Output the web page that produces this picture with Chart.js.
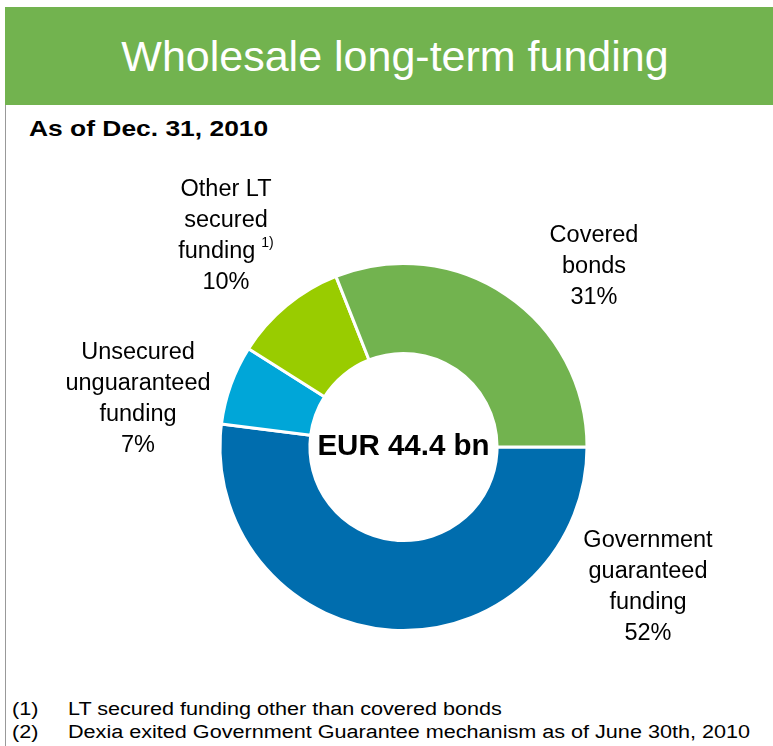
<!DOCTYPE html>
<html>
<head>
<meta charset="utf-8">
<script src="https://cdn.jsdelivr.net/npm/chart.js@4"></script>
<style>
  body { margin: 0; width: 773px; height: 746px; background: #fff; position: relative; overflow: hidden;
         font-family: "Liberation Sans", Arial, sans-serif; }
  #bar { position: absolute; left: 5px; top: 7px; width: 768px; height: 98px; background: #72B34F;
         color: #fff; font-size: 43px; text-align: center; line-height: 98px; padding-left: 12px; box-sizing: border-box; }
  #edge { position: absolute; left: 5px; top: 105px; width: 1px; height: 641px; background: #999; }
  #sub { position: absolute; left: 29px; top: 116px; font-size: 22px; font-weight: bold;
         transform: scaleX(1.2); transform-origin: left top; white-space: nowrap; }
  .note { position: absolute; font-size: 18px; transform: scaleX(1.2); transform-origin: left top; white-space: nowrap; }
  canvas { position: absolute; left: 0; top: 0; }
</style>
</head>
<body>
<div id="bar">Wholesale long-term funding</div>
<div id="edge"></div>
<div id="sub">As of Dec. 31, 2010</div>
<div class="note" style="left:12px;top:699px">(1)</div>
<div class="note" style="left:68px;top:699px">LT secured funding other than covered bonds</div>
<div class="note" style="left:12px;top:722px">(2)</div>
<div class="note" style="left:68px;top:722px">Dexia exited Government Guarantee mechanism as of June 30th, 2010</div>
<canvas id="myChart" width="773" height="746"></canvas>
<script>
"use strict";

const categories = ["Government guaranteed funding", "Unsecured unguaranteed funding", "Other LT secured funding", "Covered bonds"];
const shares = [52, 7, 10, 31];
const sliceColors = ["#006DAE", "#00A6D8", "#99CC00", "#72B34F"];
const labelLines = [
  ["Government", "guaranteed", "funding", "52%"],
  ["Unsecured", "unguaranteed", "funding", "7%"],
  ["Other LT", "secured", "funding", "10%"],
  ["Covered", "bonds", "31%"]
];
const centerText = "EUR 44.4 bn";

// where each label block sits (centre x, first line y)
const labelSpots = [
  [648, 541],
  [138, 353],
  [226, 190],
  [594, 236]
];

const labelPlugin = {
  id: "labels",
  afterDraw(chart) {
    const ctx = chart.ctx;
    const arc = chart.getDatasetMeta(0).data[0];
    ctx.save();
    ctx.fillStyle = "#000";
    ctx.textAlign = "center";
    ctx.textBaseline = "middle";
    ctx.font = "bold 29.5px 'Liberation Sans', Arial, sans-serif";
    ctx.fillText(centerText, arc.x, arc.y);

    const labelFont = "23.5px 'Liberation Sans', Arial, sans-serif";
    const supFont = "14px 'Liberation Sans', Arial, sans-serif";
    for (let i = 0; i < labelLines.length; i++) {
      const [x, y] = labelSpots[i];
      const lines = labelLines[i];
      for (let j = 0; j < lines.length; j++) {
        const ly = y + j * 31;
        if (i === 2 && j === 2) {
          // "funding" with footnote 1) centred as one group
          ctx.font = labelFont;
          const w1 = ctx.measureText(lines[j]).width;
          ctx.font = supFont;
          const w2 = ctx.measureText("1)").width;
          const left = x - (w1 + 6 + w2) / 2;
          ctx.textAlign = "left";
          ctx.font = labelFont;
          ctx.fillText(lines[j], left, ly);
          ctx.font = supFont;
          ctx.fillText("1)", left + w1 + 6, ly - 9);
          ctx.textAlign = "center";
        } else {
          ctx.font = labelFont;
          ctx.fillText(lines[j], x, ly);
        }
      }
    }
    ctx.restore();
  }
};

const data = {
  labels: categories,
  datasets: [
    {
      data: shares,
      backgroundColor: sliceColors,
      borderColor: "#ffffff",
      borderWidth: 3,
    },
  ],
};

const config = {
  type: "doughnut",
  data: data,
  options: {
    responsive: false,
    animation: false,
    rotation: 90,
    cutout: "51%",
    layout: { padding: { left: 218.5, right: 184.5, top: 262, bottom: 114 } },
    plugins: { legend: { display: false }, tooltip: { enabled: false } },
  },
  plugins: [labelPlugin],
};

const myChart = new Chart(document.getElementById("myChart"), config);
</script>
</body>
</html>
